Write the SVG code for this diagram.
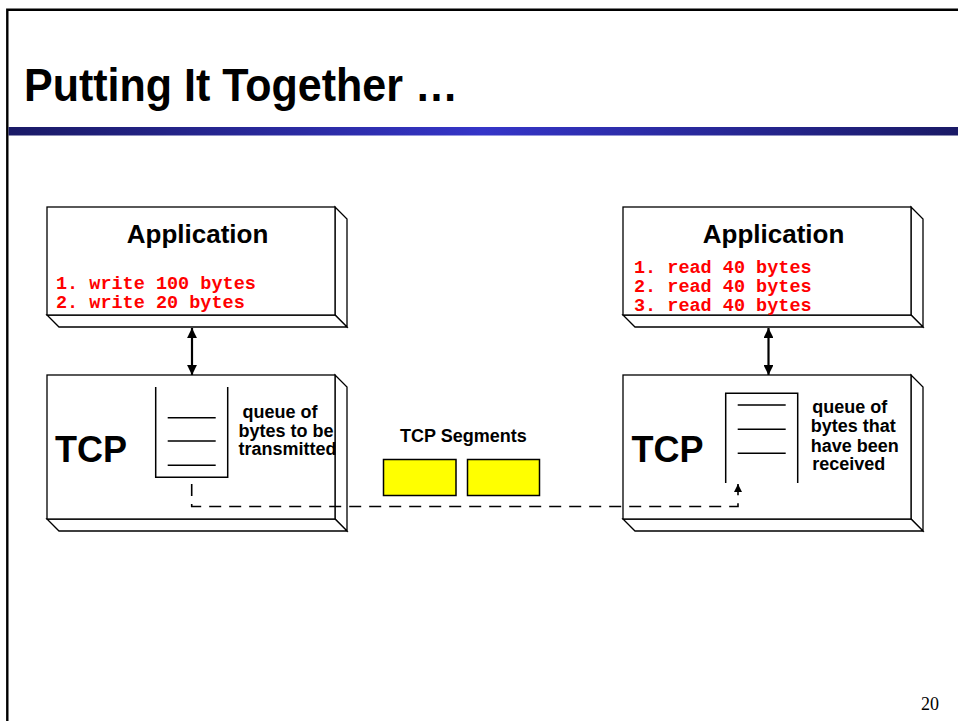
<svg xmlns="http://www.w3.org/2000/svg" width="958" height="721" viewBox="0 0 958 721">
<style>
.title{font-family:"Liberation Sans",Arial,sans-serif;font-weight:bold;font-size:46px;fill:#000}
.app{font-family:"Liberation Sans",Arial,sans-serif;font-weight:bold;font-size:26px;fill:#000;text-anchor:middle}
.tcp{font-family:"Liberation Sans",Arial,sans-serif;font-weight:bold;font-size:36px;fill:#000}
.lbl{font-family:"Liberation Sans",Arial,sans-serif;font-weight:bold;font-size:18px;fill:#000}
.code{font-family:"Liberation Mono","Courier New",monospace;font-weight:bold;font-size:18.5px;fill:#ff0000}
.pg{font-family:"Liberation Serif","Times New Roman",serif;font-size:18px;fill:#000}
.box{fill:#fff;stroke:#000;stroke-width:1.3}
.q{fill:none;stroke:#000;stroke-width:1.5}
.seg{fill:#ffff00;stroke:#000;stroke-width:1.5}
.conn{fill:none;stroke:#000;stroke-width:2.2}
.dash{fill:none;stroke:#000;stroke-width:1.6;stroke-dasharray:12 8}
</style>
<defs>
<linearGradient id="bar" x1="0" y1="0" x2="1" y2="0">
<stop offset="0" stop-color="#1a1a66"/>
<stop offset="0.5" stop-color="#3535c8"/>
<stop offset="1" stop-color="#1a1a66"/>
</linearGradient>
<marker id="ah" viewBox="0 0 10 10" refX="10" refY="5" markerWidth="4.5" markerHeight="4.5" orient="auto-start-reverse" markerUnits="strokeWidth">
<path d="M0,0 L10,5 L0,10 z" fill="#000"/>
</marker>
<marker id="ahs" viewBox="0 0 10 10" refX="10" refY="5" markerWidth="5" markerHeight="5" orient="auto" markerUnits="strokeWidth">
<path d="M0,0 L10,5 L0,10 z" fill="#000"/>
</marker>
</defs>
<rect width="958" height="721" fill="#fff"/>
<path d="M7.3,721 V9.7 H958" fill="none" stroke="#000" stroke-width="2.4"/>
<rect x="8.5" y="127" width="949.5" height="8.5" fill="url(#bar)"/>
<text class="title" transform="translate(24,101) scale(0.935,1)" x="0" y="0">Putting It Together …</text>

<g id="app-left">
<path class="box" d="M335,207 L347,219 L347,327 L335,315 Z"/>
<path class="box" d="M47,315 L59,327 L347,327 L335,315 Z"/>
<rect class="box" x="47" y="207" width="288" height="108"/>
<text class="app" x="197.5" y="243">Application</text>
<text class="code" x="56" y="289" xml:space="preserve">1. write 100 bytes</text>
<text class="code" x="56" y="308" xml:space="preserve">2. write 20 bytes</text>
</g>

<g id="app-right">
<path class="box" d="M911,207 L923,219 L923,327 L911,315 Z"/>
<path class="box" d="M623,315 L635,327 L923,327 L911,315 Z"/>
<rect class="box" x="623" y="207" width="288" height="108"/>
<text class="app" x="773.5" y="243">Application</text>
<text class="code" x="634" y="272.5" xml:space="preserve">1. read 40 bytes</text>
<text class="code" x="634" y="291.5" xml:space="preserve">2. read 40 bytes</text>
<text class="code" x="634" y="310.5" xml:space="preserve">3. read 40 bytes</text>
</g>

<g id="tcp-left">
<path class="box" d="M335,375 L347,387 L347,531 L335,519 Z"/>
<path class="box" d="M47,519 L59,531 L347,531 L335,519 Z"/>
<rect class="box" x="47" y="375" width="288" height="144"/>
<text class="tcp" x="55" y="462">TCP</text>
<path class="q" d="M155.7,387 V477.3 H227.7 V387"/>
<path class="q" d="M167.7,417.7 H215.7 M167.7,441 H215.7 M167.7,465.3 H215.7"/>
<text class="lbl" x="242.5" y="417.5">queue of</text>
<text class="lbl" x="238.5" y="436.5">bytes to be</text>
<text class="lbl" x="238.5" y="455">transmitted</text>
</g>

<g id="segments">
<text class="lbl" x="400" y="441.7">TCP Segments</text>
<rect class="seg" x="383.5" y="459.5" width="72.5" height="36"/>
<rect class="seg" x="467.5" y="459.5" width="72" height="36"/>
</g>

<g id="tcp-right">
<path class="box" d="M911,375 L923,387 L923,531 L911,519 Z"/>
<path class="box" d="M623,519 L635,531 L923,531 L911,519 Z"/>
<rect class="box" x="623" y="375" width="288" height="144"/>
<text class="tcp" x="631.5" y="462">TCP</text>
<path class="q" d="M725.7,483 V393.3 H797.7 V483"/>
<path class="q" d="M737.7,405 H785.7 M737.7,429.3 H785.7 M737.7,453.3 H785.7"/>
<text class="lbl" x="812.3" y="413.3">queue of</text>
<text class="lbl" x="810.7" y="432.3">bytes that</text>
<text class="lbl" x="810.7" y="451.7">have been</text>
<text class="lbl" x="812.3" y="470">received</text>
</g>

<g id="connectors">
<line class="conn" x1="192" y1="328" x2="192" y2="375" marker-start="url(#ah)" marker-end="url(#ah)"/>
<line class="conn" x1="768.5" y1="328" x2="768.5" y2="375" marker-start="url(#ah)" marker-end="url(#ah)"/>
<path class="dash" d="M191.7,484 V506.5 H738 V484" marker-end="url(#ahs)"/>
</g>

<text class="pg" x="921" y="710">20</text>
</svg>
